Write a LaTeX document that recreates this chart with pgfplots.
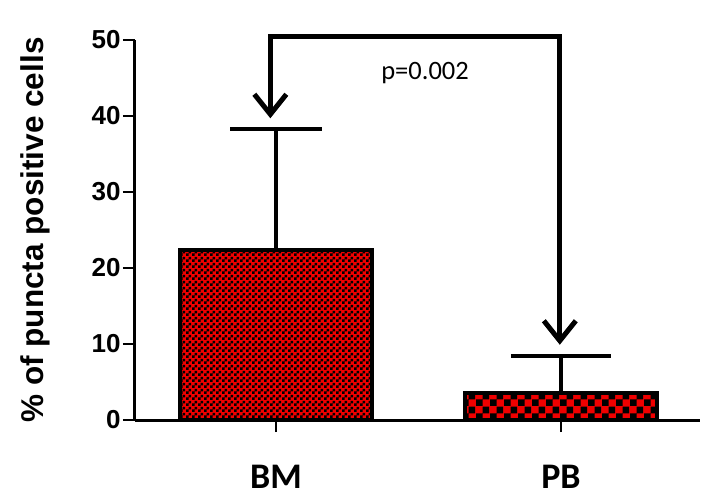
\documentclass[border=0pt]{standalone}
\usepackage{pgfplots}
\pgfplotsset{compat=1.18}
\usepackage{fontspec}
\setmainfont{Liberation Sans}
\newfontfamily\calibri{Carlito}
\usetikzlibrary{patterns,arrows.meta}
\pgfdeclarepatternformonly{finecheck}{\pgfpointorigin}{\pgfqpoint{6pt}{6pt}}{\pgfqpoint{6pt}{6pt}}{%
  \pgfpathrectangle{\pgfpointorigin}{\pgfqpoint{3pt}{3pt}}%
  \pgfpathrectangle{\pgfqpoint{3pt}{3pt}}{\pgfqpoint{3pt}{3pt}}%
  \pgfusepath{fill}}
\pgfdeclarepatternformonly{coarsecheck}{\pgfpointorigin}{\pgfqpoint{14pt}{14pt}}{\pgfqpoint{14pt}{14pt}}{%
  \pgfpathrectangle{\pgfpointorigin}{\pgfqpoint{7pt}{7pt}}%
  \pgfpathrectangle{\pgfqpoint{7pt}{7pt}}{\pgfqpoint{7pt}{7pt}}%
  \pgfusepath{fill}}
\definecolor{barred}{RGB}{240,0,0}
\begin{document}
\begin{tikzpicture}
\begin{axis}[
  scale only axis, width=565pt, height=380pt,
  xmin=-0.495, xmax=1.488, ymin=0, ymax=50,
  axis lines*=left,
  axis line style={line width=3pt, black},
  ytick={0,10,20,30,40,50},
  xtick={0,1}, xticklabels={BM,PB},
  tick style={line width=2.5pt, black},
  tick align=outside, major tick length=12pt,
  /pgf/number format/assume math mode=true,
  yticklabel style={font=\fontsize{26pt}{28pt}\selectfont\bfseries, xshift=1pt},
  xticklabel style={font=\calibri\fontsize{36pt}{38pt}\selectfont\bfseries, anchor=base, inner sep=0pt, yshift=-56pt},
  ylabel={\% of puncta positive cells},
  every axis y label/.style={at={(rel axis cs:0,0.5)}, rotate=90, anchor=center, yshift=100pt,
    font=\fontsize{31.5pt}{34pt}\selectfont\bfseries},
  clip=false,
  ybar, bar width=0.674, bar shift=0pt,
]
\addplot[draw=black, line width=4pt, preaction={fill=barred}, pattern=finecheck, pattern color=black,
  error bars/.cd, y dir=plus, y explicit,
  error bar style={line width=4pt, black},
  error mark options={rotate=90, mark size=46pt, line width=4pt, black}]
  coordinates {(0,22.4) +- (0,15.9)};
\addplot[draw=black, line width=4pt, preaction={fill=barred}, pattern=coarsecheck, pattern color=black,
  error bars/.cd, y dir=plus, y explicit,
  error bar style={line width=4pt, black},
  error mark options={rotate=90, mark size=50pt, line width=4pt, black}]
  coordinates {(1,3.55) +- (0,4.85)};
\draw[line width=5pt, miter limit=2, {Straight Barb[length=20pt,width=32pt,line width=5pt]}-{Straight Barb[length=20pt,width=32pt,line width=5pt]}]
  (axis cs:-0.02,39.7) -- (axis cs:-0.02,50.4) -- (axis cs:0.996,50.4) -- (axis cs:0.996,9.9);
\node[font=\calibri\fontsize{26.5pt}{30pt}\selectfont] at (axis cs:0.523,45.6) {p=0.002};
\coordinate (bl) at (rel axis cs:0,0);
\coordinate (tr) at (rel axis cs:1,1);
\end{axis}
\pgfresetboundingbox
\path ([shift={(-135pt,-70pt)}]bl) rectangle ([shift={(4pt,40pt)}]tr);
\end{tikzpicture}
\end{document}
